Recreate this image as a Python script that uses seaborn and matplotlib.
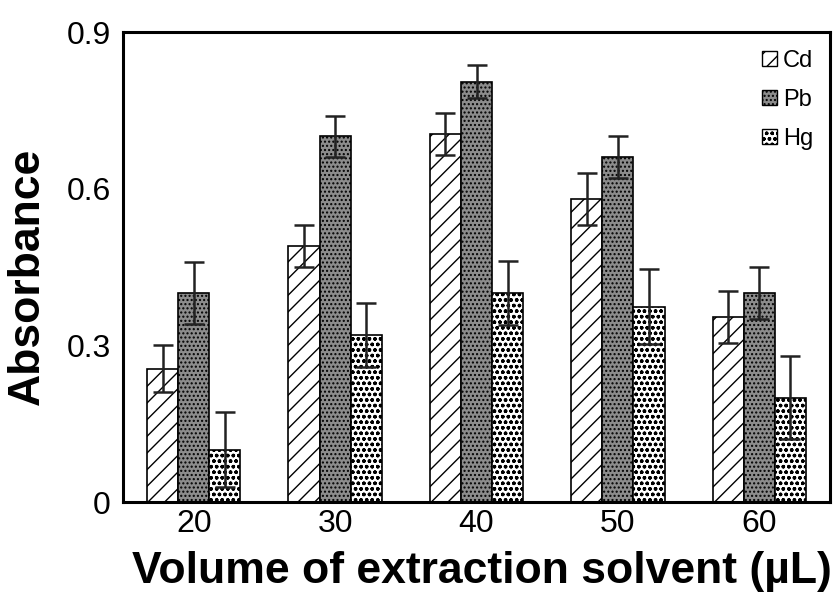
import matplotlib
matplotlib.use("Agg")
import matplotlib.pyplot as plt
import seaborn as sns
import pandas as pd
import numpy as np
from matplotlib.patches import Patch

volumes = ["20", "30", "40", "50", "60"]
metals = ["Cd", "Pb", "Hg"]
cd_vals = [0.255, 0.49, 0.705, 0.58, 0.355]
pb_vals = [0.40, 0.70, 0.805, 0.66, 0.40]
hg_vals = [0.10, 0.32, 0.40, 0.374, 0.20]
cd_err = [0.045, 0.04, 0.04, 0.05, 0.05]
pb_err = [0.06, 0.04, 0.032, 0.04, 0.05]
hg_err = [0.072, 0.062, 0.062, 0.072, 0.08]

sns.set_theme(style="white")
plt.rcParams["font.family"] = ["Liberation Sans", "DejaVu Sans"]
plt.rcParams["hatch.linewidth"] = 1.0
plt.rcParams["text.color"] = "black"
plt.rcParams["axes.labelcolor"] = "black"

rows = []
for m, vals, errs in zip(metals, [cd_vals, pb_vals, hg_vals], [cd_err, pb_err, hg_err]):
    for v, y, e in zip(volumes, vals, errs):
        rows.append({"Volume": v, "Metal": m, "Absorbance": y, "err": e})
df = pd.DataFrame(rows)

fig = plt.figure(figsize=(8.35, 5.95), dpi=100)
ax = fig.add_axes([123 / 835, 1 - 502 / 595, (830 - 123) / 835, (502 - 32) / 595])

sns.barplot(data=df, x="Volume", y="Absorbance", hue="Metal", order=volumes,
            hue_order=metals, palette=["white", "#8c8c8c", "white"],
            width=0.66, errorbar=None, edgecolor="black", linewidth=1.2,
            legend=False, ax=ax)

hatches = {"Cd": "//", "Pb": "....", "Hg": "ooo"}
for cont, m in zip(ax.containers, metals):
    sub = df[df["Metal"] == m].set_index("Volume").loc[volumes]
    xs = []
    for p in cont.patches:
        p.set_hatch(hatches[m])
        p.set_edgecolor("black")
        xs.append(p.get_x() + p.get_width() / 2)
    ax.errorbar(xs, sub["Absorbance"].values, yerr=sub["err"].values, fmt="none",
                ecolor="#222222", elinewidth=1.8, capsize=7, capthick=1.8, zorder=5)

ax.set_ylim(0, 0.9)
ax.set_xlim(-0.5, 4.5)
ax.set_yticks([0, 0.3, 0.6, 0.9])
ax.set_yticklabels(["0", "0.3", "0.6", "0.9"])
ax.tick_params(axis="both", length=0, labelsize=23, colors="black")
ax.tick_params(axis="y", pad=9)
ax.tick_params(axis="x", pad=5)
ax.set_xlabel("Volume of extraction solvent (µL)", fontsize=32, fontweight="bold", color="black")
ax.set_ylabel("Absorbance", fontsize=32, fontweight="bold", color="black")
ax.xaxis.set_label_coords(0.508, -0.104)
ax.yaxis.set_label_coords(-0.106, 0.48)
for s in ax.spines.values():
    s.set_visible(True)
    s.set_color("black")
    s.set_linewidth(2.2)

handles = [Patch(facecolor=c, edgecolor="black", hatch=hatches[m], label=m)
           for m, c in zip(metals, ["white", "#8c8c8c", "white"])]
ax.legend(handles=handles, loc="upper right", bbox_to_anchor=(0.995, 0.99), frameon=False,
          fontsize=17, handlelength=0.65, handleheight=0.65, handletextpad=0.25,
          labelspacing=0.72, borderaxespad=0.15)

fig.savefig("out.png", dpi=100)
